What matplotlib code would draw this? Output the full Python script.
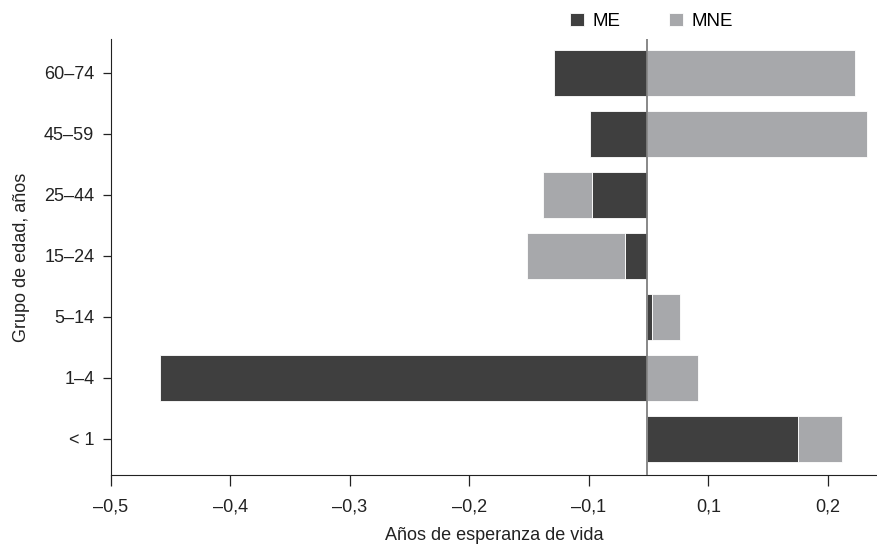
import numpy as np
import matplotlib.pyplot as plt
from matplotlib.ticker import FixedLocator, FixedFormatter

plt.rcParams['font.family'] = ['Liberation Sans', 'DejaVu Sans']

# age groups, bottom to top
grupos = ['< 1', '1–4', '5–14', '15–24', '25–44', '45–59', '60–74']
# values measured from the zero line
me = [0.126, -0.408, 0.004, -0.019, -0.046, -0.048, -0.078]
mne = [0.037, 0.042, 0.023, -0.082, -0.041, 0.184, 0.174]
# x tick labels as printed in the original (no zero label)
xlabels = ['–0,5', '–0,4', '–0,3', '–0,2', '–0,1', '0,1', '0,2']

c_me = '#3f3f3f'
c_mne = '#a7a8ab'
c_txt = '#222222'

fig = plt.figure(figsize=(8.78, 5.49), dpi=100)
ax = fig.add_axes([0.1264, 0.1348, 0.8736, 0.7942])

y = np.arange(len(grupos))
me = np.array(me)
mne = np.array(mne)
# MNE stacks on ME when same sign, otherwise starts from zero
base = np.where(np.sign(me) == np.sign(mne), me, 0)

ax.barh(y, me, height=0.75, color=c_me, edgecolor='white', linewidth=0.6, label='ME')
ax.barh(y, mne, left=base, height=0.75, color=c_mne, edgecolor='white', linewidth=0.6, label='MNE')
ax.axvline(0, color='#7f7f7f', lw=1.3, zorder=3)

ax.set_xlim(-0.449, 0.193)
ax.set_ylim(-0.59, 6.556)
ax.set_yticks(y)
ax.set_yticklabels(grupos)
# ticks sit half a step off the zero line, as in the original
ax.xaxis.set_major_locator(FixedLocator(np.arange(len(xlabels)) * 0.1 - 0.449))
ax.xaxis.set_major_formatter(FixedFormatter(xlabels))

for s in ['top', 'right']:
    ax.spines[s].set_visible(False)
ax.spines['left'].set_color(c_txt)
ax.spines['bottom'].set_color(c_txt)
ax.tick_params(labelsize=13, colors=c_txt, width=0.9)
ax.tick_params(axis='x', length=8, pad=9)
ax.tick_params(axis='y', length=6, pad=6)

ax.set_xlabel('Años de esperanza de vida', fontsize=13, color=c_txt, labelpad=8)
ax.set_ylabel('Grupo de edad, años', fontsize=13, color=c_txt, labelpad=10)

fig.legend(loc='center', bbox_to_anchor=(0.742, 0.961), ncol=2, frameon=False,
           fontsize=13.5, handlelength=0.75, handleheight=0.75, handletextpad=0.45,
           columnspacing=2.6)

fig.savefig('out.png', dpi=100)
